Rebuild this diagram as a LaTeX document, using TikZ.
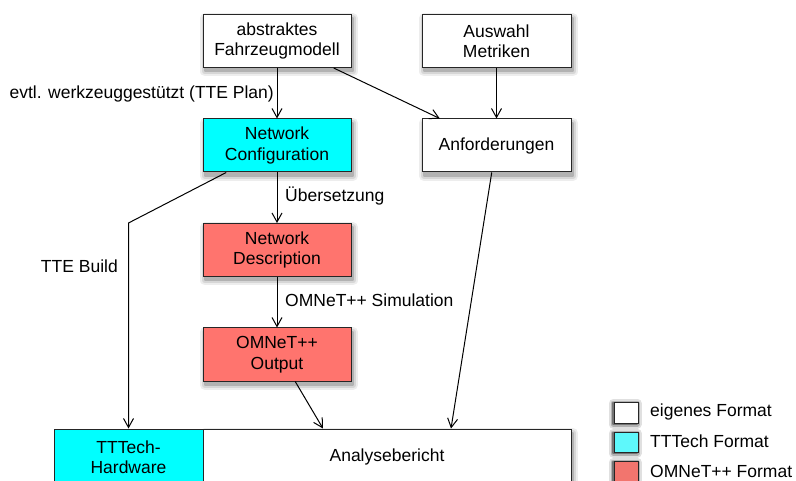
\documentclass[tikz,border=0pt]{standalone}
\usepackage{fontspec}
\setmainfont{Liberation Sans}
\usepackage{xcolor}
\usetikzlibrary{shapes,arrows.meta}

\definecolor{ttcyan}{HTML}{00FFFF}
\definecolor{omred}{HTML}{FF746E}
\definecolor{legcyan}{HTML}{5EF8FB}
\definecolor{legred}{HTML}{F2756E}

\begin{document}
\begin{tikzpicture}[x=1pt, y=-1pt, font=\fontsize{17.5}{20.5}\selectfont]
\tikzstyle{shadowlayer}=[line join=round, transform canvas={shift={(2pt,-4pt)}}]
\tikzstyle{boxshadow}=[preaction={shadowlayer, fill=black!7, draw=black!7, line width=10pt},
  preaction={shadowlayer, fill=black!16, draw=black!16, line width=6pt},
  preaction={shadowlayer, fill=black!30, draw=black!30, line width=2pt}]
\tikzstyle{legshadow}=[preaction={fill=black!12, draw=black!12, line width=9pt, line join=round, transform canvas={shift={(-1pt,-1pt)}}},
  preaction={fill=black!30, draw=black!30, line width=5pt, line join=round, transform canvas={shift={(-1pt,-1pt)}}},
  preaction={fill=black!55, draw=black!55, line width=2pt, line join=round, transform canvas={shift={(-1pt,-1pt)}}}]
\tikzstyle{vertexp}=[rectangle, draw=black!85, line width=1pt, fill=white, minimum width=148pt, minimum height=53pt, inner sep=2pt, align=center]
\tikzstyle{vertexr}=[vertexp, boxshadow]
\tikzstyle{vertexl}=[rectangle, draw=black!85, line width=1pt, minimum width=24pt, minimum height=21pt, inner sep=0pt, legshadow]
\tikzstyle{labelstyle}=[inner sep=0pt]
\tikzstyle{drawstyle}=[line width=1pt, -{Straight Barb[length=9pt, width=10pt]}]

\useasboundingbox (0,0) rectangle (796,481);
\clip (0,0) rectangle (796,481);

\node[vertexr] (G0x0) at (277,41) {abstraktes\\Fahrzeugmodell};
\node[vertexr, minimum width=149pt] (G1x0) at (496.5,41) {Auswahl\\Metriken};
\node[vertexr, fill=ttcyan] (G0x1) at (277,145.5) {Network\\Configuration};
\node[vertexr, minimum width=149pt] (G1x1) at (496.5,145.5) {Anforderungen};
\node[vertexr, fill=omred] (G0x2) at (277,250) {Network\\Description};
\node[vertexr, fill=omred] (G0x3) at (277,354.5) {OMNeT++\\Output};
\node[vertexr, minimum width=368pt, minimum height=56pt] (G1x4) at (387,457) {Analysebericht};
\node[vertexp, fill=ttcyan, minimum width=149pt, minimum height=56pt] (G0x4) at (128.5,457) {TTTech-\\Hardware};

\node[labelstyle, anchor=east] (T0) at (274,94) {evtl. werkzeuggestützt (TTE Plan)};
\node[labelstyle, anchor=west] (T1) at (285,196) {Übersetzung};
\node[labelstyle, anchor=east] (T2) at (118,266) {TTE Build};
\node[labelstyle, anchor=west] (T3) at (285,300) {OMNeT++ Simulation};

\draw[drawstyle] (G0x0) -- (G0x1);
\draw[drawstyle] (G0x0) -- (G1x1);
\draw[drawstyle] (G1x0) -- (G1x1);
\draw[drawstyle] (G0x1) -- (G0x2);
\draw[drawstyle] (G0x2) -- (G0x3);
\draw[drawstyle] (G0x1.-152) -- (G0x4.north |- G0x2.north) -- (G0x4.north);
\draw[drawstyle] (G0x3.-56) -- (G1x4.156);
\draw[drawstyle] (G1x1.-100) -- (G1x4.24);

% legend
\node[vertexl, fill=white] (L0) at (626,412.5) {};
\node[vertexl, fill=legcyan, minimum height=20pt] (L1) at (626,442) {};
\node[vertexl, fill=legred] (L2) at (626,471.5) {};
\node[labelstyle, anchor=west] (L0t) at (650,412) {eigenes Format};
\node[labelstyle, anchor=west] (L1t) at (650,441) {TTTech Format};
\node[labelstyle, anchor=west] (L2t) at (650,471) {OMNeT++ Format};
\end{tikzpicture}
\end{document}
